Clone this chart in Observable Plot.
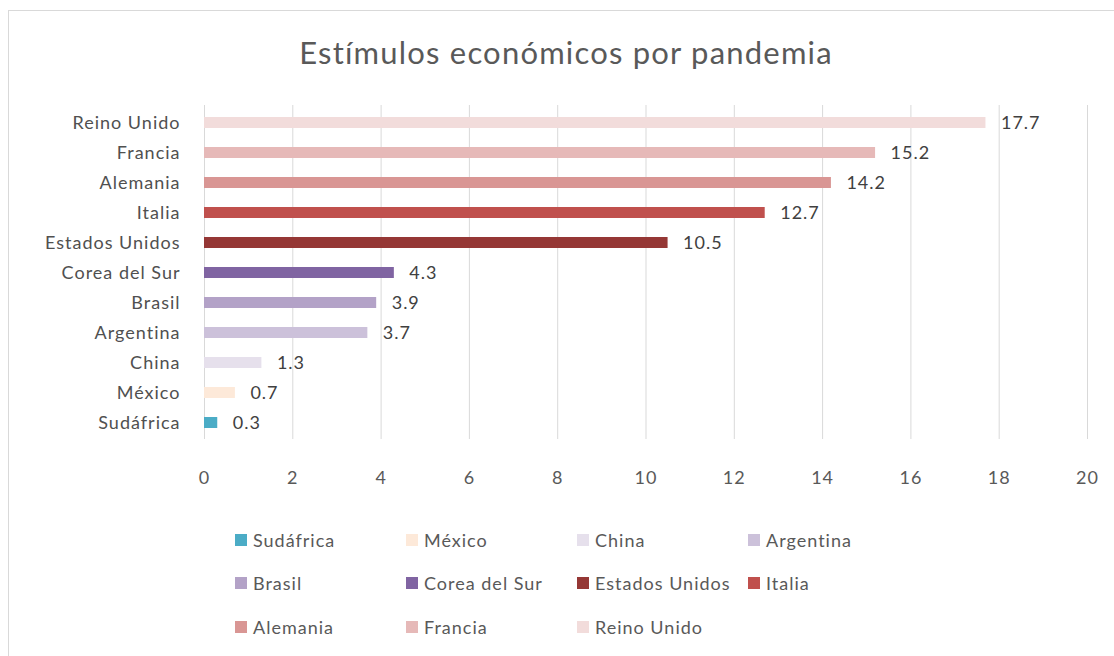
<!DOCTYPE html>
<html>
<head>
<meta charset="utf-8">
<script src="https://cdn.jsdelivr.net/npm/d3@7"></script>
<script src="https://cdn.jsdelivr.net/npm/@observablehq/plot@0.6"></script>
<style>
  html, body { margin: 0; padding: 0; background: #fff; overflow: hidden; }
  body { width: 1114px; height: 656px; position: relative; font-family: Lato, "Open Sans", sans-serif; }
  #frame { position: absolute; left: 8px; top: 10px; width: 1200px; height: 700px; border: 1px solid #d9d9d9; box-sizing: border-box; pointer-events: none; }
  #title { height: 90px; line-height: 104px; text-align: center; font-size: 31px; color: #595959; letter-spacing: 1.2px; padding-left: 18px; }
  #chart svg { display: block; }
  #legend { padding-left: 235px; padding-top: 24px; width: 690px; display: flex; flex-wrap: wrap; }
  .item { width: 171px; height: 43.5px; display: flex; align-items: center; font-size: 18px; color: #595959; letter-spacing: 1px; white-space: nowrap; }
  .sw { width: 12px; height: 12px; margin-right: 6px; flex: none; }
  #chart svg text { letter-spacing: 1px; }
</style>
</head>
<body>
<div id="frame"></div>
<div id="title">Estímulos económicos por pandemia</div>
<div id="chart"></div>
<div id="legend"></div>
<script>
const countries = ["Sudáfrica", "México", "China", "Argentina", "Brasil", "Corea del Sur", "Estados Unidos", "Italia", "Alemania", "Francia", "Reino Unido"];
const values = [0.3, 0.7, 1.3, 3.7, 3.9, 4.3, 10.5, 12.7, 14.2, 15.2, 17.7];
const colors = ["#4bacc6", "#fde9d9", "#e6e0ec", "#ccc1da", "#b3a2c7", "#8064a2", "#953735", "#c0504d", "#d99694", "#e6b9b8", "#f2dcdb"];
const xTicks = [0, 2, 4, 6, 8, 10, 12, 14, 16, 18, 20];

const data = countries.map((c, i) => ({country: c, value: values[i], color: colors[i]}));

const plot = Plot.plot({
  width: 1114,
  height: 404,
  marginTop: 15,
  marginBottom: 55,
  marginLeft: 204,
  marginRight: 27,
  style: {fontFamily: "Lato, 'Open Sans', sans-serif", fontSize: "18px", color: "#595959", background: "transparent"},
  x: {domain: [0, 20], ticks: xTicks, tickSize: 0, tickPadding: 32, label: null},
  y: {domain: countries.slice().reverse(), paddingInner: 0.64, paddingOuter: 0.32, tickSize: 0, tickPadding: 24, label: null},
  color: {domain: countries, range: colors},
  marks: [
    Plot.gridX(xTicks, {stroke: "#d9d9d9", strokeOpacity: 1, strokeWidth: 1}),
    Plot.barX(data, {x: "value", y: "country", fill: "country"}),
    Plot.text(data, {x: "value", y: "country", text: d => d.value.toFixed(1), dx: 15, textAnchor: "start", fill: "#404040", fontSize: 18}),
    Plot.axisX({ticks: xTicks, tickSize: 0, tickPadding: 32, fill: "#595959"}),
    Plot.axisY({tickSize: 0, tickPadding: 24, fill: "#505050"})
  ]
});
document.getElementById("chart").appendChild(plot);

const legend = document.getElementById("legend");
data.forEach(d => {
  const it = document.createElement("div");
  it.className = "item";
  const sw = document.createElement("span");
  sw.className = "sw";
  sw.style.background = d.color;
  const tx = document.createElement("span");
  tx.textContent = d.country;
  it.appendChild(sw);
  it.appendChild(tx);
  legend.appendChild(it);
});
</script>
</body>
</html>
